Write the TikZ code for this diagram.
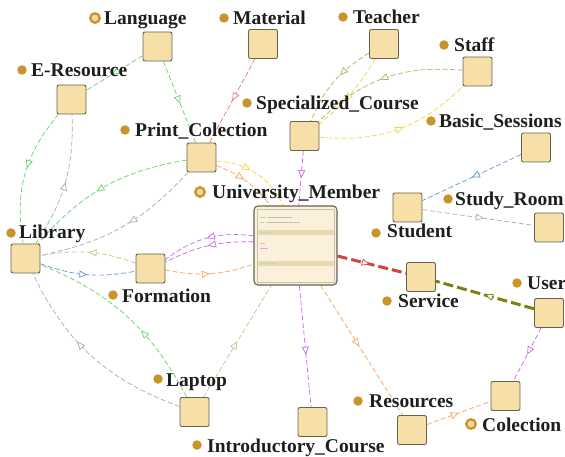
\documentclass[tikz,border=0pt]{standalone}
\usepackage{fontspec}
\setmainfont{Liberation Serif}
\usetikzlibrary{arrows.meta,decorations.markings}
\definecolor{cgreen}{RGB}{100,210,100}
\definecolor{cgray}{RGB}{170,170,170}
\definecolor{cred}{RGB}{225,120,120}
\definecolor{colive}{RGB}{175,175,95}
\definecolor{cyellow}{RGB}{245,210,60}
\definecolor{cpurple}{RGB}{200,100,235}
\definecolor{cblue}{RGB}{100,150,210}
\definecolor{corange}{RGB}{245,160,90}
\definecolor{ckhaki}{RGB}{200,195,140}
\definecolor{cthickred}{RGB}{205,70,70}
\definecolor{cthickolive}{RGB}{128,128,16}
\definecolor{boxfill}{RGB}{247,223,168}
\definecolor{boxline}{RGB}{105,98,80}
\definecolor{umfill}{RGB}{251,241,218}
\definecolor{umband}{RGB}{232,216,176}
\definecolor{dotgold}{RGB}{201,149,43}
\definecolor{dotlight}{RGB}{240,217,160}
\definecolor{txt}{RGB}{30,30,30}
\pgfdeclarelayer{bg}
\pgfsetlayers{bg,main}
\tikzset{
  cls/.style={draw=boxline, fill=boxfill, line width=0.9pt, rounded corners=2pt,
    minimum width=29pt, minimum height=29pt, inner sep=0pt},
  umbox/.style={draw=boxline, fill=umfill, line width=1.1pt, rounded corners=4pt,
    minimum width=83pt, minimum height=79pt, inner sep=0pt},
  gdot/.style={circle, fill=dotgold, minimum size=9.5pt, inner sep=0pt},
  odot/.style={circle, fill=dotlight, draw=dotgold, line width=2.3pt, minimum size=9.5pt, inner sep=0pt},
  lbl/.style={anchor=base west, inner sep=0pt, text=txt,
    font=\bfseries\fontsize{19.5}{20}\selectfont},
  rel/.style={dash pattern=on 5pt off 2.5pt, line width=0.7pt},
  thickrel/.style={dash pattern=on 10pt off 4pt, line width=3pt},
  midarr/.style={postaction={decorate, decoration={markings,
    mark=at position #1 with {\arrow{Triangle[length=8pt,width=7pt,fill=white,line width=0.7pt]}}}}},
  midarr/.default=0.5
}
\begin{document}
\begin{tikzpicture}[x=1pt,y=-1pt]
\useasboundingbox (0,0) rectangle (565,457);
% class boxes
\node[cls] (lang) at (157.5,46.5) {};
\node[cls] (mat) at (263,44) {};
\node[cls] (teach) at (384,44) {};
\node[cls] (staff) at (477.5,71.5) {};
\node[cls] (eres) at (71.5,99.5) {};
\node[cls] (sc) at (304.5,136) {};
\node[cls] (print) at (201.5,157.5) {};
\node[cls] (bs) at (536,147.5) {};
\node[cls] (stud) at (407.5,207.5) {};
\node[cls] (study) at (549,227.5) {};
\node[cls] (lib) at (25.5,258.5) {};
\node[cls] (form) at (150.5,268.5) {};
\node[cls] (serv) at (421,277) {};
\node[cls] (user) at (549,313) {};
\node[cls] (lap) at (194.5,412) {};
\node[cls] (ic) at (312.5,422) {};
\node[cls] (res) at (412,430) {};
\node[cls] (col) at (505.5,396) {};
\node[umbox] (um) at (295.5,245.5) {};
% inner structure of the expanded box
\fill[umband] (257,230) rectangle (334,235);
\fill[umband] (257,261) rectangle (334,266);
\draw[boxline!40, line width=0.4pt] (257,209) rectangle (334,282);
\draw[cgreen!60, line width=0.5pt] (260,217) -- (266,217);
\draw[gray!50, line width=0.5pt] (268,217) -- (292,217);
\draw[cgreen!60, line width=0.5pt] (260,222) -- (264,222);
\draw[gray!50, line width=0.5pt] (267,222) -- (300,222);
\draw[corange!70, line width=0.5pt] (260,243) -- (265,243);
\draw[cpurple!60, line width=0.5pt] (260,248) -- (268,248);
\draw[gray!40, line width=0.5pt] (260,232.5) -- (272,232.5);
\draw[gray!40, line width=0.5pt] (260,263.5) -- (275,263.5);
% dots and labels
\node[odot] (dlang) at (95,18) {};   \node[lbl] (tlang) at (104,25) {Language};
\node[gdot] (dmat) at (224,18) {};   \node[lbl] (tmat) at (233,25) {Material};
\node[gdot] (dteach) at (343,17) {}; \node[lbl] (tteach) at (353,24) {Teacher};
\node[gdot] (dstaff) at (444,45) {}; \node[lbl] (tstaff) at (454,52) {Staff};
\node[gdot] (deres) at (22,70) {};   \node[lbl] (teres) at (31,77) {E-Resource};
\node[gdot] (dsc) at (247,103) {};   \node[lbl] (tsc) at (256,110) {Specialized\_Course};
\node[gdot] (dprint) at (125,130) {};\node[lbl] (tprint) at (135,137) {Print\_Colection};
\node[gdot] (dbs) at (431,121) {};   \node[lbl] (tbs) at (439,128) {Basic\_Sessions};
\node[odot] (dum) at (200,192) {};   \node[lbl] (tum) at (212,199) {University\_Member};
\node[gdot] (dstudy) at (448,199) {};\node[lbl] (tstudy) at (455,206) {Study\_Room};
\node[gdot] (dstud) at (376,233) {}; \node[lbl] (tstud) at (387,238) {Student};
\node[gdot] (dlib) at (11,233) {};   \node[lbl] (tlib) at (19,239) {Library};
\node[gdot] (dform) at (113,295) {}; \node[lbl] (tform) at (122,302) {Formation};
\node[gdot] (dserv) at (387,301) {}; \node[lbl] (tserv) at (398,307) {Service};
\node[gdot] (duser) at (517,283) {}; \node[lbl] (tuser) at (527,289) {User};
\node[gdot] (dlap) at (158,379) {};  \node[lbl] (tlap) at (166,386) {Laptop};
\node[gdot] (dres) at (358,401) {};  \node[lbl] (tres) at (369,407) {Resources};
\node[odot] (dcol) at (471,424) {};  \node[lbl] (tcol) at (482,431) {Colection};
\node[gdot] (dic) at (197,445) {};   \node[lbl] (tic) at (207,452) {Introductory\_Course};
% connectors
\begin{pgfonlayer}{bg}
\draw[rel, cgreen, midarr=0.55] (lang) -- (eres);
\draw[rel, cgreen, midarr=0.52] (lang) -- (print);
\draw[rel, cred, midarr=0.5] (mat) -- (print);
\draw[rel, cgreen, midarr=0.45] (eres) to[bend right=25] (lib);
\draw[rel, cgray, midarr=0.5] (lib) to[bend right=18] (eres);
\draw[rel, cgreen, midarr=0.55] (print) to[bend right=20] (lib);
\draw[rel, cgray, midarr=0.45] (print) to[bend left=18] (lib);
\draw[rel, corange, midarr=0.45] (print) to[bend left=15] (um);
\draw[rel, cyellow, midarr=0.42] (print) to[bend left=30] (um);
\draw[rel, cpurple, midarr=0.5] (sc) -- (um);
\draw[rel, colive, midarr=0.4] (teach) to[bend right=18] (sc);
\draw[rel, cyellow, midarr=0.6] (teach) to[bend left=10] (sc);
\draw[rel, colive, midarr=0.53] (staff) to[bend right=25] (sc);
\draw[rel, cyellow, midarr=0.54] (sc) to[bend right=25] (staff);
\draw[rel, cblue, midarr=0.5] (bs) -- (stud);
\draw[rel, cgray, midarr=0.55] (stud) -- (study);
\draw[rel, ckhaki, midarr=0.5] (form) to[bend right=15] (lib);
\draw[rel, cblue, midarr=0.5] (lib) to[bend right=15] (form);
\draw[rel, cpurple, midarr=0.5] (um) to[bend right=14] (form);
\draw[rel, cpurple, midarr=0.5] (um) to[bend right=22] (form);
\draw[rel, corange, midarr=0.5] (form) to[bend right=15] (um);
\draw[rel, cgreen, midarr=0.4] (lap) to[bend right=20] (lib);
\draw[rel, cgray, midarr=0.6] (lap) to[bend left=22] (lib);
\draw[rel, ckhaki, midarr=0.5] (lap) -- (um);
\draw[rel, cpurple, midarr=0.57] (um) -- (ic);
\draw[rel, corange, midarr=0.47] (um) -- (res);
\draw[thickrel, cthickred, midarr=0.47] (um) -- (serv);
\draw[thickrel, cthickolive, midarr=0.5] (user) -- (serv);
\draw[rel, cpurple, midarr=0.5] (user) -- (col);
\draw[rel, corange, midarr=0.5] (res) -- (col);
\end{pgfonlayer}
\end{tikzpicture}
\end{document}
